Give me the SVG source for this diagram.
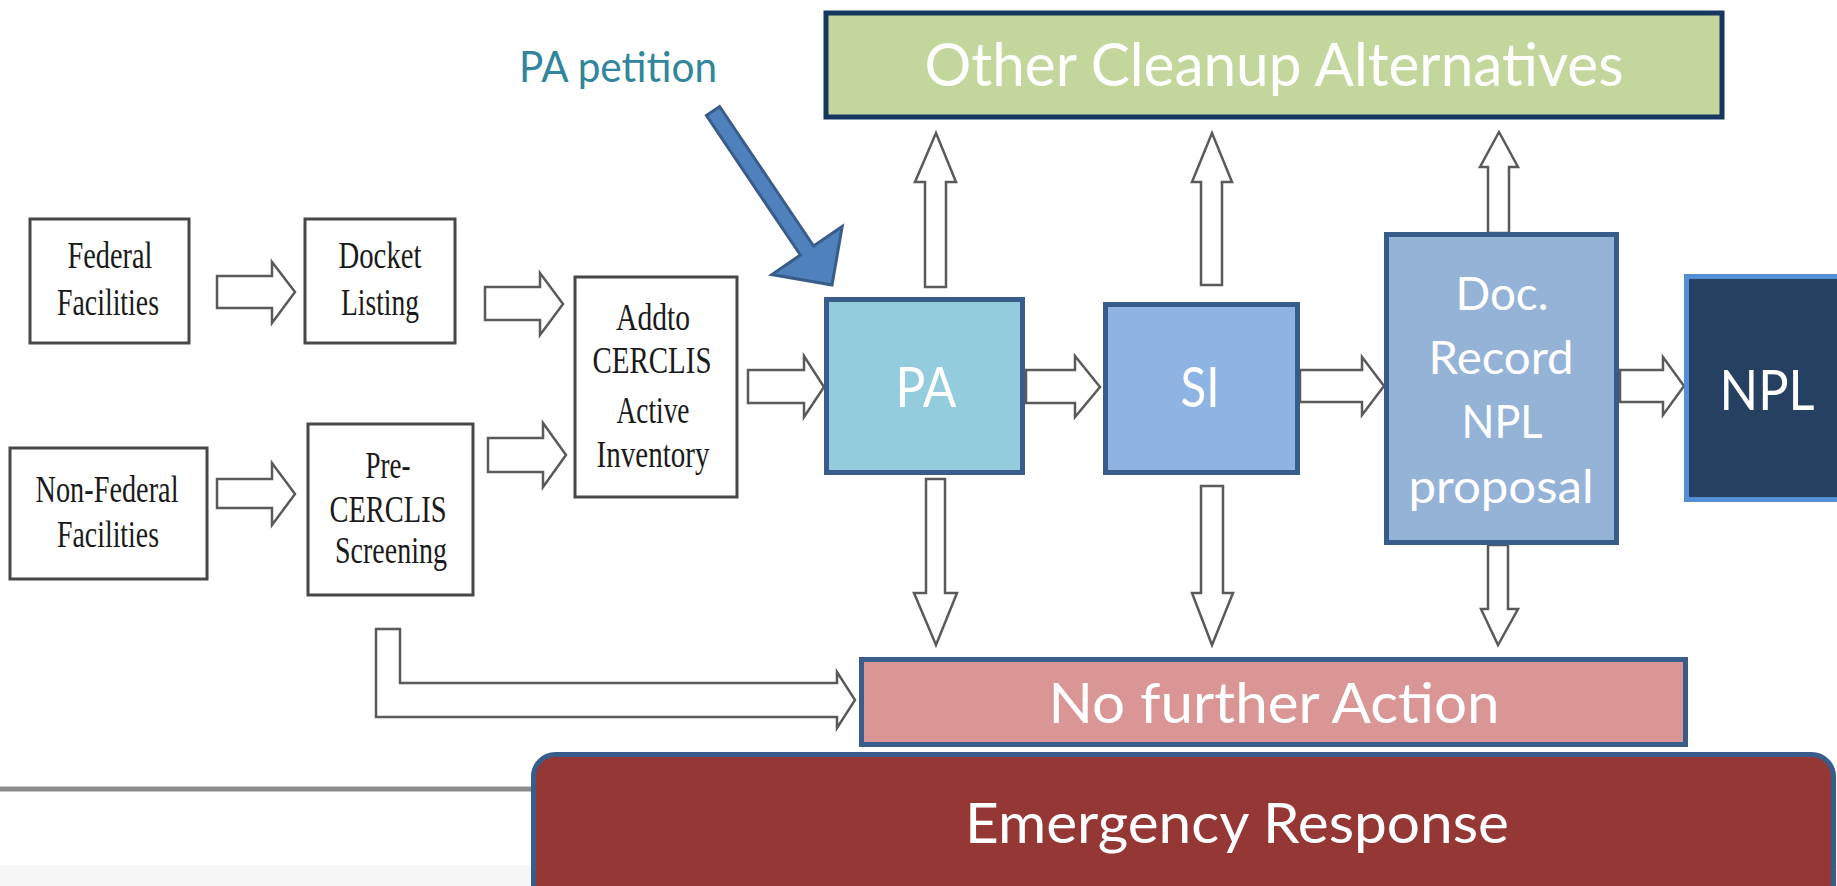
<svg xmlns="http://www.w3.org/2000/svg" width="1837" height="886" viewBox="0 0 1837 886">
<style>
.sbox{fill:#ffffff;stroke:#474747;stroke-width:3}
.st{font-family:"Liberation Serif","Times New Roman",serif;font-size:37px;fill:#1a1a1a;text-anchor:middle}
.blk{fill:#ffffff;stroke:#5a5a5a;stroke-width:2.5;stroke-linejoin:miter}
.wt{font-family:Lato,"Open Sans","Liberation Sans",sans-serif;fill:#ffffff;text-anchor:middle}
.nb{stroke:#385D8A;stroke-width:5}
</style>
<rect x="0" y="865" width="1837" height="21" fill="#F7F7F7"/>
<line x1="0" y1="789" x2="540" y2="789" stroke="#8c8c8c" stroke-width="5"/>

<g id="connectors">
<polygon class="blk" points="217,276 272,276 272,262 295,292 272,323 272,308 217,308"/>
<polygon class="blk" points="485,287 540,287 540,273 563,304 540,335 540,320 485,320"/>
<polygon class="blk" points="217,479 272,479 272,463 295,494 272,525 272,508 217,508"/>
<polygon class="blk" points="488,438 543,438 543,423 566,455 543,487 543,472 488,472"/>
<polygon class="blk" points="748,370 804,370 804,356 824,387 804,417 804,403 748,403"/>
<polygon class="blk" points="1026,370 1075,370 1075,356 1100,387 1075,417 1075,403 1026,403"/>
<polygon class="blk" points="1300,370 1362,370 1362,357 1384,386 1362,415 1362,402 1300,402"/>
<polygon class="blk" points="1620,370 1663,370 1663,357 1684,386 1663,415 1663,402 1620,402"/>
<polygon class="blk" points="925,287 925,182 915,182 936,133 956,182 946,182 946,287"/>
<polygon class="blk" points="1201,285 1201,182 1192,182 1212,133 1232,182 1222,182 1222,285"/>
<polygon class="blk" points="1488,233 1488,167 1480,167 1499,132 1518,167 1509,167 1509,233"/>
<polygon class="blk" points="926,479 945,479 945,593 957,593 936,645 914,593 926,593"/>
<polygon class="blk" points="1201,486 1223,486 1223,593 1233,593 1212,645 1192,593 1201,593"/>
<polygon class="blk" points="1488,545 1508,545 1508,609 1518,609 1498,645 1481,609 1488,609"/>
<polygon class="blk" points="376,629 400,629 400,683 837,683 837,672 855,700 837,728 837,717 376,717"/>
<polygon points="706.4,115.5 719.6,106.5 813.6,246 842.2,226.4 832,285 771.8,274.6 800.4,255" fill="#4F81BD" stroke="#385D8A" stroke-width="3" stroke-linejoin="miter"/>
</g>

<g id="pa-petition">
<text x="618" y="82" font-family="Lato,'Open Sans','Liberation Sans',sans-serif" font-size="42" fill="#31859C" text-anchor="middle" textLength="198" lengthAdjust="spacingAndGlyphs">PA petition</text>
</g>

<g id="federal">
<rect class="sbox" x="30" y="219" width="159" height="124"/>
<text class="st" x="110" y="268" textLength="85" lengthAdjust="spacingAndGlyphs">Federal</text>
<text class="st" x="108" y="315" textLength="102" lengthAdjust="spacingAndGlyphs">Facilities</text>
</g>
<g id="docket">
<rect class="sbox" x="305" y="219" width="150" height="124"/>
<text class="st" x="380" y="268" textLength="83" lengthAdjust="spacingAndGlyphs">Docket</text>
<text class="st" x="380" y="315" textLength="78" lengthAdjust="spacingAndGlyphs">Listing</text>
</g>
<g id="nonfederal">
<rect class="sbox" x="10" y="448" width="197" height="131"/>
<text class="st" x="107" y="502" textLength="143" lengthAdjust="spacingAndGlyphs">Non-Federal</text>
<text class="st" x="108" y="547" textLength="102" lengthAdjust="spacingAndGlyphs">Facilities</text>
</g>
<g id="precerclis">
<rect class="sbox" x="308" y="424" width="165" height="171"/>
<text class="st" x="388" y="478" textLength="45" lengthAdjust="spacingAndGlyphs">Pre-</text>
<text class="st" x="388" y="522" textLength="117" lengthAdjust="spacingAndGlyphs">CERCLIS</text>
<text class="st" x="391" y="563" textLength="112" lengthAdjust="spacingAndGlyphs">Screening</text>
</g>
<g id="addcerclis">
<rect class="sbox" x="575" y="277" width="162" height="220"/>
<text class="st" x="653" y="330" textLength="74" lengthAdjust="spacingAndGlyphs">Addto</text>
<text class="st" x="652" y="373" textLength="119" lengthAdjust="spacingAndGlyphs">CERCLIS</text>
<text class="st" x="653" y="423" textLength="73" lengthAdjust="spacingAndGlyphs">Active</text>
<text class="st" x="653" y="467" textLength="113" lengthAdjust="spacingAndGlyphs">Inventory</text>
</g>

<g id="other-cleanup">
<rect x="826" y="13" width="896" height="104" fill="#C3D69B" stroke="#17375E" stroke-width="5"/>
<text class="wt" x="1274" y="86" font-size="60" textLength="699" lengthAdjust="spacingAndGlyphs">Other Cleanup Alternatives</text>
</g>
<g id="pa">
<rect class="nb" x="826.5" y="299.5" width="196" height="173" fill="#93CDDD"/>
<text class="wt" x="926" y="407" font-size="56" textLength="61" lengthAdjust="spacingAndGlyphs">PA</text>
</g>
<g id="si">
<rect class="nb" x="1105.5" y="304.5" width="192" height="168" fill="#8EB4E3"/>
<text class="wt" x="1200" y="407" font-size="56" textLength="39" lengthAdjust="spacingAndGlyphs">SI</text>
</g>
<g id="doc-record">
<rect class="nb" x="1386.5" y="234.5" width="230" height="308" fill="#95B3D7"/>
<text class="wt" x="1502" y="310" font-size="46" textLength="93" lengthAdjust="spacingAndGlyphs">Doc.</text>
<text class="wt" x="1501" y="374" font-size="46" textLength="145" lengthAdjust="spacingAndGlyphs">Record</text>
<text class="wt" x="1502" y="438" font-size="46" textLength="81" lengthAdjust="spacingAndGlyphs">NPL</text>
<text class="wt" x="1501" y="503" font-size="46" textLength="185" lengthAdjust="spacingAndGlyphs">proposal</text>
</g>
<g id="npl">
<rect x="1686.5" y="276.5" width="200" height="223" fill="#254061" stroke="#558ED5" stroke-width="5"/>
<text class="wt" x="1767" y="410" font-size="56" textLength="95" lengthAdjust="spacingAndGlyphs">NPL</text>
</g>
<g id="no-further-action">
<rect class="nb" x="861.5" y="659.5" width="824" height="85" fill="#D99694"/>
<text class="wt" x="1274" y="723" font-size="56" textLength="451" lengthAdjust="spacingAndGlyphs">No further Action</text>
</g>
<g id="emergency-response">
<rect class="nb" x="533.5" y="754.5" width="1300" height="170" rx="22" ry="22" fill="#953735"/>
<text class="wt" x="1237" y="843" font-size="56" textLength="544" lengthAdjust="spacingAndGlyphs">Emergency Response</text>
</g>
</svg>
